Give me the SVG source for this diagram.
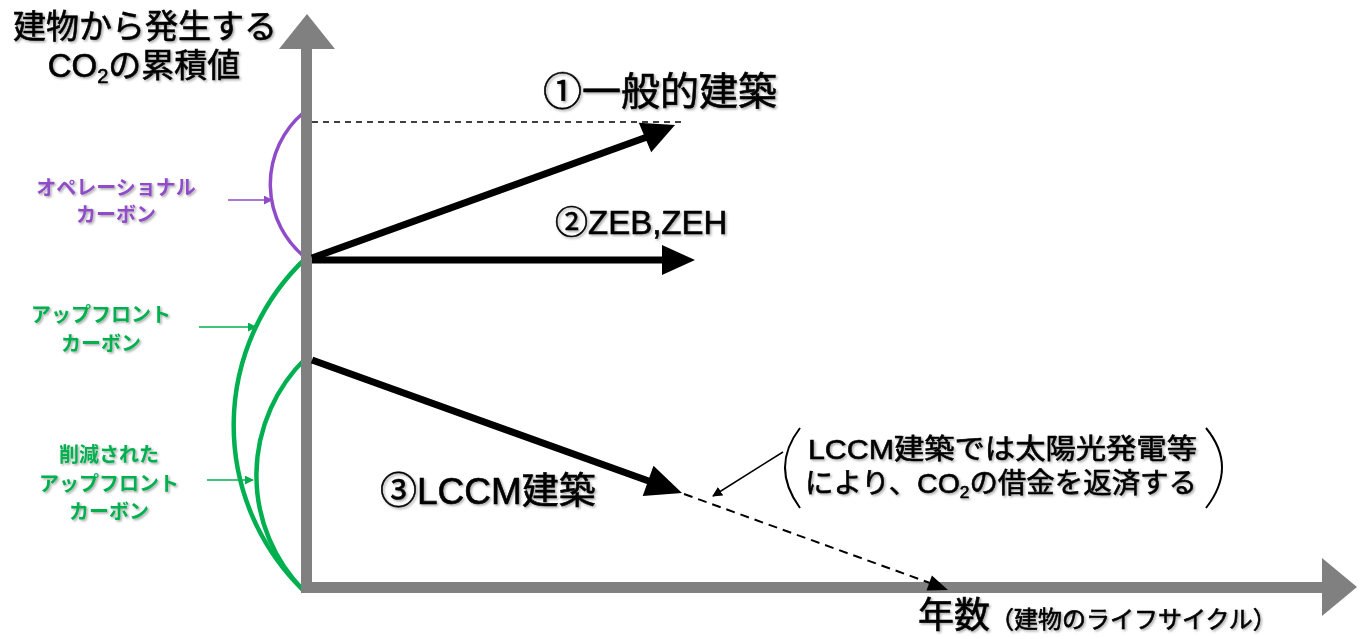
<svg xmlns="http://www.w3.org/2000/svg" width="1363" height="639" viewBox="0 0 1363 639">
  <defs>
    <filter id="sh" x="-10%" y="-20%" width="120%" height="150%">
      <feDropShadow dx="1.5" dy="1.5" stdDeviation="1" flood-color="#000" flood-opacity="0.35"/>
    </filter>
    <marker id="ahp" viewBox="0 0 10 10" refX="9" refY="5" markerWidth="9" markerHeight="9" markerUnits="userSpaceOnUse" orient="auto">
      <path d="M0,0 L10,5 L0,10 z" fill="#8F4BC8"/>
    </marker>
    <marker id="ahg" viewBox="0 0 10 10" refX="9" refY="5" markerWidth="9" markerHeight="9" markerUnits="userSpaceOnUse" orient="auto">
      <path d="M0,0 L10,5 L0,10 z" fill="#00B050"/>
    </marker>
    <marker id="ahk" viewBox="0 0 10 10" refX="9" refY="5" markerWidth="10" markerHeight="10" markerUnits="userSpaceOnUse" orient="auto">
      <path d="M0,0 L10,5 L0,10 z" fill="#000"/>
    </marker>
  </defs>
  <style>
    .t { font-family: "Liberation Sans", "Noto Sans CJK JP", sans-serif; fill: #000; stroke: #000; stroke-width: 0.6; filter: url(#sh); }
    .lab { font-family: "Noto Sans CJK JP", sans-serif; font-weight: bold; font-size: 20px; text-anchor: middle; filter: url(#sh); }
    .purple { fill: #8F4BC8; }
    .green { fill: #00B050; }
    .axis { fill: #808080; }
    .thick { stroke: #000; stroke-width: 7; fill: none; }
    .head { fill: #000; }
    .dash { stroke: #000; stroke-width: 1.5; fill: none; stroke-dasharray: 6 5; }
    .dash2 { stroke: #000; stroke-width: 2; fill: none; stroke-dasharray: 9 6; }
  </style>

  <g id="arcs" fill="none">
    <path d="M303,113 A94,94 0 0 0 306,258" stroke="#8F4BC8" stroke-width="3.5"/>
    <path d="M306,258 A230,230 0 0 0 303,590" stroke="#00B050" stroke-width="4.5"/>
    <path d="M306,358 A164,164 0 0 0 303,590" stroke="#00B050" stroke-width="4.5"/>
  </g>

  <g id="y-axis">
    <rect class="axis" x="301" y="48" width="11" height="545"/>
    <polygon class="axis" points="279,49 335,49 307,14"/>
  </g>
  <g id="x-axis">
    <rect class="axis" x="301" y="582" width="1022" height="11"/>
    <polygon class="axis" points="1322,558 1322,616 1357,587"/>
  </g>

  <g id="connectors">
    <line class="dash" x1="312" y1="122" x2="682" y2="122"/>
    <line class="thick" x1="312" y1="258" x2="647" y2="137"/>
    <polygon class="head" points="675,125 638.8,122.7 651.2,152.3"/>
    <line class="thick" x1="312" y1="260" x2="664" y2="260"/>
    <polygon class="head" points="662,245 662,275 695,260"/>
    <line class="thick" x1="312" y1="360" x2="650" y2="481.5"/>
    <polygon class="head" points="682,493 642.7,495.9 653.5,465.7"/>
    <line class="dash2" x1="684" y1="494" x2="930" y2="583"/>
    <polygon class="head" points="948,590 926.5,590.6 931.9,575.6"/>
    <line x1="783" y1="452" x2="713" y2="496" stroke="#000" stroke-width="1.5" marker-end="url(#ahk)"/>
    <line x1="228" y1="200" x2="272" y2="200" stroke="#8F4BC8" stroke-width="1.5" marker-end="url(#ahp)"/>
    <line x1="199" y1="327" x2="256" y2="327" stroke="#00B050" stroke-width="1.5" marker-end="url(#ahg)"/>
    <line x1="207" y1="480" x2="253" y2="480" stroke="#00B050" stroke-width="1.5" marker-end="url(#ahg)"/>
  </g>

  <g id="title">
    <text class="t" x="145" y="38" font-size="33" text-anchor="middle">建物から発生する</text>
    <text class="t" x="144" y="77" font-size="33" text-anchor="middle">CO<tspan font-size="20" dy="6">2</tspan><tspan dy="-6">の累積値</tspan></text>
  </g>

  <g id="label-general">
    <text class="t" x="543" y="105" font-size="39">①一般的建築</text>
  </g>
  <g id="label-zeb">
    <text class="t" x="555" y="234" font-size="33">②ZEB,ZEH</text>
  </g>
  <g id="label-lccm">
    <text class="t" x="380" y="504" font-size="37">③LCCM建築</text>
  </g>

  <g id="label-operational">
    <text class="lab purple" x="116" y="195">オペレーショナル</text>
    <text class="lab purple" x="116" y="222">カーボン</text>
  </g>
  <g id="label-upfront">
    <text class="lab green" x="101" y="322">アップフロント</text>
    <text class="lab green" x="101" y="351">カーボン</text>
  </g>
  <g id="label-reduced">
    <text class="lab green" x="109" y="462">削減された</text>
    <text class="lab green" x="109" y="491">アップフロント</text>
    <text class="lab green" x="109" y="519">カーボン</text>
  </g>

  <g id="callout">
    <path d="M800,428 Q770,467 800,508" fill="none" stroke="#000" stroke-width="2"/>
    <path d="M1206,428 Q1238,467 1206,508" fill="none" stroke="#000" stroke-width="2"/>
    <text class="t" x="808" y="459" font-size="28" textLength="389" lengthAdjust="spacingAndGlyphs">LCCM建築では太陽光発電等</text>
    <text class="t" x="805" y="493" font-size="28" textLength="392" lengthAdjust="spacingAndGlyphs">により、CO<tspan font-size="17" dy="5">2</tspan><tspan dy="-5">の借金を返済する</tspan></text>
  </g>

  <g id="x-label">
    <text class="t" x="918" y="628"><tspan font-size="36">年数</tspan><tspan font-size="24">（建物のライフサイクル）</tspan></text>
  </g>
</svg>
